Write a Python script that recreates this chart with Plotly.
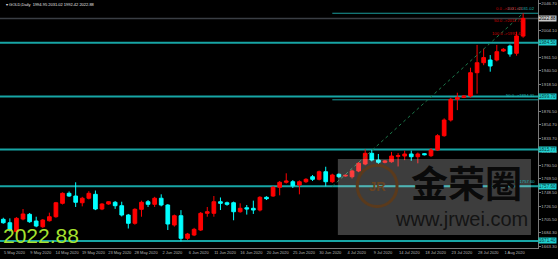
import plotly.graph_objects as go

# ---------------- data ----------------
bar_index = list(range(80))
opens = [1705.5, 1700.1, 1686.0, 1706.0, 1713.4, 1702.8, 1693.8, 1703.3, 1709.6, 1730.8,
         1746.6, 1742.3, 1731.7, 1738.8, 1745.0, 1721.8, 1729.7, 1732.4, 1727.0, 1712.3,
         1699.2, 1721.3, 1733.3, 1729.2, 1738.8, 1728.1, 1696.5, 1711.2, 1675.5, 1680.7,
         1688.6, 1715.0, 1715.0, 1733.3, 1731.7, 1731.7, 1717.5, 1723.8, 1722.9, 1720.2,
         1740.3, 1742.3, 1756.1, 1764.0, 1764.9, 1759.7, 1764.9, 1772.8, 1768.7, 1780.7,
         1764.9, 1776.6, 1773.9, 1772.8, 1781.9, 1792.9, 1809.8, 1799.2, 1795.6, 1796.5,
         1805.0, 1805.5, 1808.7, 1804.4, 1809.2, 1806.0, 1815.0, 1837.6, 1862.4, 1895.1,
         1898.2, 1900.3, 1937.1, 1952.9, 1957.2, 1957.2, 1971.4, 1979.3, 1967.8, 1994.95]
highs = [1708.0, 1707.0, 1709.0, 1721.8, 1715.5, 1709.6, 1706.0, 1716.0, 1733.0, 1748.0,
         1749.5, 1764.0, 1741.0, 1750.0, 1751.0, 1731.0, 1734.0, 1734.5, 1733.3, 1714.0,
         1723.0, 1735.0, 1736.0, 1741.0, 1745.0, 1729.5, 1713.0, 1720.0, 1684.0, 1692.0,
         1717.0, 1725.0, 1742.3, 1740.0, 1733.5, 1733.5, 1730.8, 1728.1, 1735.0, 1742.0,
         1742.0, 1758.0, 1766.0, 1778.2, 1767.5, 1767.0, 1770.5, 1775.5, 1782.5, 1788.6,
         1777.5, 1778.0, 1776.5, 1784.0, 1796.0, 1816.0, 1815.0, 1808.7, 1799.0, 1812.0,
         1810.0, 1814.0, 1814.0, 1811.0, 1810.0, 1818.0, 1840.0, 1865.0, 1897.5, 1905.5,
         1901.5, 1945.0, 1981.0, 1975.0, 1965.0, 1981.0, 1976.0, 1981.5, 2001.9, 2031.02]
lows = [1698.5, 1686.0, 1684.5, 1704.0, 1700.0, 1693.0, 1692.0, 1702.0, 1708.0, 1729.0,
        1741.0, 1725.0, 1726.0, 1737.0, 1720.0, 1720.0, 1728.5, 1722.0, 1710.0, 1691.0,
        1697.0, 1709.6, 1725.0, 1725.0, 1726.0, 1688.6, 1694.0, 1670.5, 1673.0, 1679.0,
        1687.0, 1709.6, 1709.6, 1720.2, 1727.0, 1704.0, 1716.0, 1713.0, 1714.0, 1718.0,
        1736.0, 1741.0, 1743.4, 1762.0, 1755.0, 1745.0, 1763.0, 1766.0, 1767.0, 1757.6,
        1763.0, 1771.0, 1773.0, 1770.0, 1780.0, 1791.0, 1797.0, 1793.0, 1794.0, 1795.0,
        1789.0, 1799.0, 1798.0, 1794.0, 1806.5, 1804.0, 1814.0, 1836.0, 1860.0, 1878.0,
        1897.0, 1898.0, 1904.0, 1949.0, 1938.7, 1955.0, 1970.0, 1962.4, 1964.0, 1992.42]
closes = [1700.1, 1688.6, 1707.1, 1713.9, 1701.7, 1694.9, 1704.4, 1709.6, 1731.7, 1746.6,
          1742.3, 1732.4, 1738.8, 1746.6, 1721.8, 1729.7, 1733.3, 1727.0, 1712.3, 1699.2,
          1721.3, 1732.4, 1729.2, 1738.8, 1728.1, 1698.1, 1711.2, 1675.5, 1682.3, 1689.7,
          1715.0, 1717.5, 1733.3, 1730.8, 1729.2, 1717.5, 1722.9, 1721.8, 1720.2, 1740.3,
          1738.1, 1756.1, 1764.0, 1766.0, 1758.6, 1764.9, 1768.7, 1768.7, 1780.7, 1764.9,
          1775.5, 1772.8, 1775.0, 1781.9, 1794.0, 1809.8, 1799.2, 1795.6, 1797.6, 1805.5,
          1806.0, 1808.7, 1804.4, 1808.7, 1807.6, 1815.0, 1837.6, 1862.4, 1895.1, 1898.2,
          1900.3, 1937.1, 1952.9, 1961.0, 1947.7, 1970.3, 1974.1, 1966.6, 1995.1, 2022.88]

date_tick_bars = list(range(0, 80, 4))
date_tick_labels = ["5 May 2020", "9 May 2020", "14 May 2020", "19 May 2020", "23 May 2020",
                    "28 May 2020", "2 Jun 2020", "6 Jun 2020", "11 Jun 2020", "16 Jun 2020",
                    "20 Jun 2020", "25 Jun 2020", "30 Jun 2020", "4 Jul 2020", "9 Jul 2020",
                    "14 Jul 2020", "18 Jul 2020", "23 Jul 2020", "28 Jul 2020", "1 Aug 2020"]

price_ticks = [2046.70, 2004.10, 1961.50, 1940.50, 1918.50, 1876.50, 1854.70, 1833.70,
               1812.30, 1790.50, 1769.50, 1748.50, 1726.50, 1705.50, 1684.30, 1663.30]
price_tick_labels = ["%.2f" % v for v in price_ticks]

level_lines = [1984.50, 1899.70, 1815.77, 1757.60, 1671.40]
bid_price = 2022.88

fib_anchor_bars = [50, 79]
fib_anchor_prices = [1757.60, 2031.02]
fib_levels = [0.0, 50.0, 100.0]
small_fib_prices = [1992.42, 2031.02]

title_text = "GOLD,Daily  1994.95 2031.02 1992.42 2022.88"

# ---------------- figure ----------------
Y_MIN, Y_MAX = 1660.2, 2051.96
X_MIN, X_MAX = -0.5, 81.26

fig = go.Figure()
fig.add_trace(go.Candlestick(
    x=bar_index, open=opens, high=highs, low=lows, close=closes,
    increasing=dict(line=dict(color="#ff0000", width=1), fillcolor="#ff0000"),
    decreasing=dict(line=dict(color="#00ffff", width=1), fillcolor="#00ffff"),
    whiskerwidth=0, showlegend=False, hoverinfo="skip"))

# fibo trend (dotted)
fig.add_trace(go.Scatter(x=fib_anchor_bars, y=fib_anchor_prices, mode="lines",
                         line=dict(color="#1d7a4c", width=1, dash="dot"),
                         showlegend=False, hoverinfo="skip"))

shapes = []
shapes.append(dict(type="line", xref="paper", x0=0, x1=1, yref="y", y0=bid_price, y1=bid_price,
                   line=dict(color="#3a3e44", width=1.5), layer="below"))
for lv in level_lines:
    shapes.append(dict(type="line", xref="paper", x0=0, x1=1, yref="y", y0=lv, y1=lv,
                       line=dict(color="#17a5a5", width=2), layer="below"))

lo, hi = fib_anchor_prices
annotations = []
for f in fib_levels:
    p = hi - (hi - lo) * f / 100.0
    shapes.append(dict(type="line", xref="x", x0=fib_anchor_bars[0], x1=X_MAX, yref="y", y0=p, y1=p,
                       line=dict(color="#1a9a9a", width=1), layer="below"))
    annotations.append(dict(xref="paper", x=0.998, xanchor="right", yref="y", y=p, yanchor="bottom",
                            text="%.1f ->%.2f" % (f, p), showarrow=False,
                            font=dict(size=4.2, color="#22b5b5", family="Liberation Sans")))

slo, shi = small_fib_prices
for f in fib_levels:
    p = shi - (shi - slo) * f / 100.0
    annotations.append(dict(xref="paper", x=0.975, xanchor="right", yref="y", y=p, yanchor="bottom",
                            text="%.1f ->%.2f" % (f, p), showarrow=False,
                            font=dict(size=4.2, color="#d00000", family="Liberation Sans")))

# watermark
shapes.append(dict(type="rect", xref="paper", yref="paper", x0=0.628, x1=0.987, y0=0.052, y1=0.359,
                   fillcolor="rgba(255,255,255,0.24)", line=dict(width=0), layer="above"))
shapes.append(dict(type="circle", xref="paper", yref="paper", x0=0.664, x1=0.738, y0=0.167, y1=0.334,
                   fillcolor="rgba(0,0,0,0)", line=dict(color="#5a3a1c", width=3), layer="above"))
annotations.append(dict(xref="paper", yref="paper", x=0.701, y=0.25, xanchor="center", yanchor="middle",
                        text="<b>JR</b>", showarrow=False,
                        font=dict(size=13, color="#6a4420", family="Liberation Sans")))
annotations.append(dict(xref="paper", yref="paper", x=0.868, y=0.265, xanchor="center", yanchor="middle",
                        text="<b>金荣圈</b>", showarrow=False,
                        font=dict(size=37, color="#0a0a0a", family="Noto Sans CJK SC")))
annotations.append(dict(xref="paper", yref="paper", x=0.857, y=0.117, xanchor="center", yanchor="middle",
                        text="www.jrwei.com", showarrow=False,
                        font=dict(size=20, color="#141414", family="Liberation Sans")))

# highlighted price labels on axis
for lv in level_lines:
    annotations.append(dict(xref="paper", x=1.0, xanchor="left", yref="y", y=lv, yanchor="middle",
                            text="%.2f" % lv, showarrow=False, bgcolor="#1fd0d0", borderpad=0,
                            font=dict(size=4.6, color="#0a3a3a", family="Liberation Sans")))
annotations.append(dict(xref="paper", x=1.0, xanchor="left", yref="y", y=bid_price, yanchor="middle",
                        text="%.2f" % bid_price, showarrow=False, bgcolor="#c8c8c8", borderpad=0,
                        font=dict(size=4.6, color="#000000", family="Liberation Sans")))

# title and big price
annotations.append(dict(xref="paper", yref="paper", x=0.008, y=0.98, xanchor="left", yanchor="middle",
                        text="\u25be " + title_text, showarrow=False,
                        font=dict(size=4, color="#e6e6e6", family="Liberation Sans")))
annotations.append(dict(xref="paper", yref="paper", x=0.002, y=0.052, xanchor="left", yanchor="middle",
                        text="%.2f" % closes[-1], showarrow=False,
                        font=dict(size=21, color="#a6e22e", family="Liberation Sans")))

fig.update_layout(
    width=558, height=259,
    margin=dict(l=0, r=20, t=0, b=11, autoexpand=False),
    paper_bgcolor="#000000", plot_bgcolor="#000000",
    shapes=shapes, annotations=annotations,
    boxgap=0.2,
    xaxis=dict(range=[X_MIN, X_MAX], rangeslider=dict(visible=False), showgrid=False, zeroline=False,
               tickvals=[b + 1.7 for b in date_tick_bars], ticktext=date_tick_labels, tickangle=0,
               automargin=False,
               tickfont=dict(size=4, color="#b8b8b8", family="Liberation Sans"),
               showline=True, linecolor="#7a7a7a", linewidth=1, ticks="", ticklen=0),
    yaxis=dict(range=[Y_MIN, Y_MAX], side="right", showgrid=False, zeroline=False, automargin=False,
               tickvals=price_ticks, ticktext=price_tick_labels,
               tickfont=dict(size=4.3, color="#b8b8b8", family="Liberation Sans"),
               showline=True, linecolor="#7a7a7a", linewidth=1, ticks="outside", ticklen=1.5,
               tickcolor="#7a7a7a"),
)

fig.write_html("out.html")
